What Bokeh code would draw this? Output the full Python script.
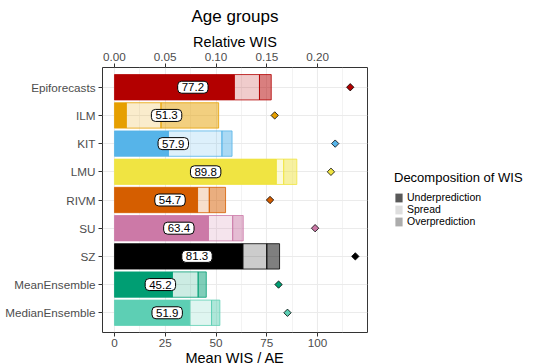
import math
from bokeh.plotting import figure
from bokeh.models import (ColumnDataSource, Range1d, FactorRange, LinearAxis, FixedTicker,
                          NumeralTickFormatter, Legend, LegendItem)
from bokeh.core.properties import value, field
from bokeh.embed import file_html
from bokeh.resources import INLINE

# ---- data ----
models = ["Epiforecasts", "ILM", "KIT", "LMU", "RIVM", "SU", "SZ",
          "MeanEnsemble", "MedianEnsemble"]
colors = ["#B30000", "#E69F00", "#56B4E9", "#F0E442", "#D55E00", "#CC79A7",
          "#000000", "#009E73", "#5DCFB4"]
total = [77.2, 51.3, 57.9, 89.8, 54.7, 63.4, 81.3, 45.2, 51.9]
underprediction = [59.0, 5.8, 26.6, 79.7, 40.9, 46.3, 63.2, 28.5, 37.1]
spread = [12.4, 17.1, 26.3, 3.6, 5.8, 11.9, 11.8, 12.7, 10.7]
overprediction = [5.8, 28.4, 5.0, 6.5, 8.0, 5.2, 6.3, 4.0, 4.1]
ae = [116.1, 78.9, 108.7, 106.6, 76.6, 98.8, 118.6, 80.8, 85.2]
decomp_labels = ["Underprediction", "Spread", "Overprediction"]
decomp_alpha = [1.0, 0.2, 0.5]
x_ticks = [0, 25, 50, 75, 100, 125]
x_minor = [12.5, 37.5, 62.5, 87.5, 112.5]
rel_ticks = [0.0, 0.05, 0.10, 0.15, 0.20]
rel_factor = 500.0  # Mean WIS units per unit of relative WIS

FONT = "Liberation Sans"

src = ColumnDataSource(dict(
    model=models, color=colors, under=underprediction, spread=spread,
    over=overprediction, total=total, mid=[t / 2 for t in total],
    label=[f"{t:.1f}" for t in total], ae=ae, zero=[0] * len(models)))

SHIFT = 13
x0, x1 = -5.9, 124.6
p = figure(frame_width=265, frame_height=265, output_backend="svg",
           toolbar_location=None,
           x_range=Range1d(x0, x1),
           y_range=FactorRange(factors=models[::-1], range_padding=0.2,
                               range_padding_units="absolute"),
           min_border_left=102 + SHIFT, min_border_right=168, min_border_top=66,
           min_border_bottom=0, margin=(0, 0, 0, -SHIFT))
p.background_fill_color = "white"
p.border_fill_color = "white"
p.outline_line_color = "#333333"
p.outline_line_width = 1

# title
p.title.text = "Age groups"
p.title.align = "center"
p.title.text_font = FONT
p.title.text_font_size = "17px"
p.title.text_font_style = "normal"
p.title.text_color = "black"
p.title.standoff = 9

# grids
p.xgrid.grid_line_color = "#EBEBEB"
p.xgrid.grid_line_width = 1.1
p.xgrid.minor_grid_line_color = "#EBEBEB"
p.xgrid.minor_grid_line_width = 0.6
p.ygrid.grid_line_color = "#EBEBEB"
p.ygrid.grid_line_width = 1.1

# bottom axis
xa = p.xaxis[0]
xa.ticker = FixedTicker(ticks=x_ticks, minor_ticks=x_minor)
xa.axis_label = "Mean WIS / AE"
xa.axis_line_color = None
xa.major_tick_line_color = "#333333"
xa.major_tick_out = 4
xa.major_tick_in = 0
xa.minor_tick_out = 0
xa.minor_tick_in = 0
xa.major_label_standoff = 2
xa.major_label_text_font = FONT
xa.major_label_text_font_size = "11.7px"
xa.major_label_text_color = "#4D4D4D"
xa.axis_label_text_font = FONT
xa.axis_label_text_font_size = "14.5px"
xa.axis_label_text_font_style = "normal"
xa.axis_label_text_color = "black"
xa.axis_label_standoff = 0

# left axis
ya = p.yaxis[0]
ya.axis_line_color = None
ya.major_tick_line_color = "#333333"
ya.major_tick_out = 4
ya.major_tick_in = 0
ya.major_label_standoff = 3
ya.major_label_text_font = FONT
ya.major_label_text_font_size = "11.7px"
ya.major_label_text_color = "#4D4D4D"

# top axis (relative WIS)
p.extra_x_ranges = {"rel": Range1d(x0 / rel_factor, x1 / rel_factor)}
ta = LinearAxis(x_range_name="rel", axis_label="Relative WIS",
                ticker=FixedTicker(ticks=rel_ticks),
                formatter=NumeralTickFormatter(format="0.00"))
ta.axis_line_color = None
ta.major_tick_line_color = "#333333"
ta.major_tick_out = 4
ta.major_tick_in = 0
ta.minor_tick_out = 0
ta.minor_tick_in = 0
ta.major_label_standoff = 3
ta.major_label_text_font = FONT
ta.major_label_text_font_size = "11.7px"
ta.major_label_text_color = "#4D4D4D"
ta.axis_label_text_font = FONT
ta.axis_label_text_font_size = "14.5px"
ta.axis_label_text_font_style = "normal"
ta.axis_label_text_color = "black"
ta.axis_label_standoff = 0
p.add_layout(ta, "above")

# stacked bars
p.hbar_stack(["under", "spread", "over"], y="model", height=0.9, source=src,
             fill_color=field("color"), line_color=field("color"),
             fill_alpha=decomp_alpha, line_width=0.8)

# labels
p.text(x="mid", y="model", text="label", source=src,
       text_font=value(FONT), text_font_size="11.5px", text_color="black",
       text_align="center", text_baseline="middle",
       background_fill_color="white", border_line_color="black",
       border_line_width=1, padding=dict(left=4, right=4, top=2, bottom=2),
       border_radius=4)

# AE diamonds
p.scatter(x="ae", y="model", source=src, marker="square", angle=math.pi / 4,
          size=5.2, fill_color=field("color"), line_color="black", line_width=0.8)

# legend (gray keys for the decomposition; zero-width proxy bars)
items = []
for lab, a in zip(decomp_labels, decomp_alpha):
    r = p.hbar(y="model", left="zero", right="zero", height=0.9, source=src,
               fill_color="#595959", fill_alpha=a, line_color=None)
    items.append(LegendItem(label=lab, renderers=[r], index=0))
legend = Legend(items=items, location=(27, 105), orientation="vertical",
                title="Decomposition of WIS", title_text_font=FONT,
                title_text_font_size="13px", title_text_font_style="normal",
                title_text_color="black", title_standoff=6,
                label_text_font=FONT, label_text_font_size="10.5px",
                label_text_color="black", label_standoff=4,
                glyph_width=9, glyph_height=11, label_height=10, spacing=0,
                padding=0, margin=0, border_line_color=None,
                background_fill_alpha=0)
p.add_layout(legend, "right")

open("out.html", "w").write(file_html(p, INLINE))
